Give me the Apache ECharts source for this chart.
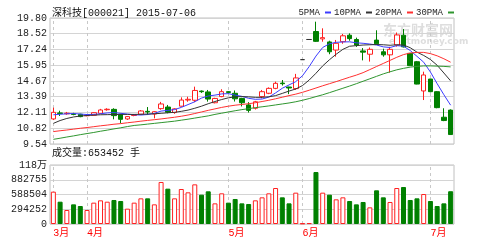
<!DOCTYPE html>
<html><head><meta charset="utf-8">
<script src="https://cdn.jsdelivr.net/npm/echarts@6/dist/echarts.min.js"></script>
<style>html,body{margin:0;padding:0;background:#fff}#c{width:502px;height:240px}</style>
</head><body><div id="c"></div>
<script>
const stockTitle = '深科技[000021] 2015-07-06';
const volumeTitle = '成交量:653452 手';
const maNames = ['5PMA', '10PMA', '20PMA', '30PMA'];
const monthNames = ['3月', '4月', '5月', '6月', '7月'];
const monthFirstDay = [0, 5, 26, 37, 56];
const priceTicks = ['9.54', '10.82', '12.11', '13.39', '14.67', '15.95', '17.24', '18.52', '19.80'];
const volumeTicks = ['0', '294252', '588504', '882755', '118万'];
const priceMin = 9.54, priceMax = 19.80, volumeMax = 1177010;

const opens  = [11.58,12.07,12.00,11.99,11.96,11.84,11.88,12.04,12.33,12.36,11.96,11.58,11.86,11.96,12.20,11.98,12.42,12.55,12.10,12.62,13.12,13.10,13.85,13.78,12.90,13.40,13.80,13.67,13.25,12.72,12.45,13.40,13.67,14.07,14.50,14.18,14.05,16.41,18.05,18.70,18.10,17.85,17.19,17.87,18.40,18.05,17.12,16.85,18.00,17.05,16.80,17.60,18.40,16.92,16.24,13.86,14.83,13.80,11.72,12.30];
const closes = [12.12,12.02,12.05,11.95,11.77,11.87,12.09,12.31,12.37,11.85,11.55,11.77,11.92,12.23,12.15,12.17,12.80,12.13,12.40,13.12,13.18,13.90,13.80,13.20,13.25,13.80,13.74,13.22,12.90,12.28,12.98,13.80,14.07,14.48,14.45,14.10,14.92,16.41,18.05,17.90,18.20,17.05,17.74,18.35,18.12,17.60,17.02,17.25,17.70,16.80,17.25,18.42,17.45,15.92,14.42,15.16,13.80,12.50,11.45,10.31];
const highs  = [12.50,12.25,12.15,12.08,12.00,11.92,12.12,12.40,12.45,12.45,12.00,11.82,11.98,12.30,12.55,12.20,12.97,12.72,12.45,13.34,13.39,14.21,13.90,13.94,13.30,14.00,13.85,13.90,13.30,12.95,13.05,13.94,14.15,14.62,14.75,14.20,15.25,16.41,18.05,19.50,18.96,17.95,18.01,18.50,18.55,18.20,17.35,17.40,18.80,17.30,17.45,18.62,18.90,16.95,16.30,15.43,14.85,13.85,12.45,12.36];
const lows   = [11.49,11.82,11.92,11.88,11.72,11.80,11.85,12.00,12.25,11.55,11.22,11.50,11.80,11.92,11.90,11.63,12.33,12.04,12.00,12.58,12.98,12.95,13.70,12.99,12.85,13.35,13.65,13.00,12.60,12.10,12.35,13.26,13.60,14.00,14.30,13.60,13.95,16.41,18.05,17.85,17.87,16.85,16.65,17.70,17.95,17.45,16.35,16.25,17.60,16.65,15.35,17.47,17.40,15.90,14.40,13.12,13.75,12.45,11.40,10.31];
const volumes = [645000,445000,279000,392000,359000,279000,426000,472000,445000,479000,459000,306000,426000,512000,512000,392000,838000,705000,512000,698000,632000,791000,585000,652000,412000,612000,426000,499000,412000,399000,472000,532000,612000,718000,532000,412000,625000,12000,18000,1037000,625000,585000,492000,532000,459000,392000,439000,332000,672000,532000,439000,718000,738000,479000,512000,598000,459000,359000,412000,653452];

const ma5  = [11.92,11.96,12.00,12.02,11.98,11.94,11.95,12.00,12.07,12.10,12.04,11.98,11.92,11.90,11.94,12.04,12.22,12.28,12.34,12.52,12.75,12.98,13.28,13.45,13.52,13.62,13.64,13.52,13.42,13.26,13.18,13.20,13.36,13.70,14.08,14.35,14.62,15.10,15.85,16.70,17.40,17.70,17.82,17.85,17.86,17.78,17.74,17.68,17.60,17.45,17.40,17.55,17.50,17.15,16.68,16.20,15.40,14.45,13.55,12.70];
const ma10 = [11.22,11.45,11.62,11.74,11.82,11.86,11.89,11.92,11.93,11.94,11.95,11.95,11.95,11.96,11.98,12.00,12.04,12.08,12.12,12.20,12.30,12.45,12.62,12.82,13.00,13.16,13.30,13.38,13.40,13.38,13.34,13.34,13.38,13.48,13.66,13.85,14.02,14.30,14.75,15.30,15.90,16.40,16.85,17.25,17.50,17.55,17.60,17.62,17.64,17.62,17.58,17.62,17.60,17.38,17.02,16.75,16.42,15.95,15.32,14.68];
const ma20 = [10.55,10.62,10.68,10.75,10.82,10.88,10.95,11.02,11.08,11.15,11.20,11.27,11.33,11.40,11.46,11.52,11.58,11.65,11.72,11.80,11.90,12.02,12.15,12.28,12.40,12.52,12.62,12.70,12.76,12.82,12.90,13.00,13.10,13.22,13.35,13.48,13.60,13.75,13.92,14.10,14.28,14.45,14.62,14.80,14.98,15.15,15.35,15.60,15.85,16.10,16.35,16.60,16.82,16.95,17.00,17.00,16.90,16.72,16.48,16.20];
const ma30 = [9.92,10.01,10.11,10.20,10.30,10.39,10.48,10.58,10.67,10.77,10.86,10.96,11.05,11.10,11.16,11.22,11.28,11.34,11.40,11.48,11.56,11.65,11.74,11.83,11.95,12.05,12.15,12.25,12.34,12.42,12.50,12.57,12.64,12.72,12.80,12.88,12.98,13.10,13.24,13.40,13.55,13.72,13.90,14.08,14.26,14.45,14.65,14.85,15.05,15.25,15.42,15.58,15.70,15.80,15.86,15.90,15.90,15.88,15.86,15.82];

const mono = "'Liberation Mono','Noto Sans CJK SC',monospace";
const upColor = '#ff2020', downColor = '#008000', flatColor = '#333333';
const maColors = ['#3c3cff', '#333333', '#ff3030', '#2f962f'];
const categories = opens.map((_, i) => 'd' + i);
const monthLabelOf = {};
monthFirstDay.forEach((d, k) => { monthLabelOf[d] = monthNames[k]; });
const candleData = opens.map((o, i) => highs[i] === lows[i]
  ? { value: [o, closes[i], lows[i], highs[i]], itemStyle: { borderColor: flatColor, borderColor0: flatColor, color: flatColor } }
  : [o, closes[i], lows[i], highs[i]]);
const volData = volumes.map((v, i) => closes[i] >= opens[i]
  ? { value: v, itemStyle: { color: '#ffffff', borderColor: upColor, borderWidth: 1 } }
  : { value: v, itemStyle: { color: downColor, borderColor: downColor, borderWidth: 1 } });
const monthLines = {
  silent: true, symbol: 'none', z: 1, animation: false,
  label: { show: false },
  lineStyle: { type: [3, 3], color: '#c8c8c8', width: 1 },
  emphasis: { disabled: true },
  data: monthFirstDay.map(d => ({ xAxis: d }))
};
const maSeries = [ma5, ma10, ma20, ma30].map((arr, k) => ({
  name: maNames[k], type: 'line', xAxisIndex: 0, yAxisIndex: 0, data: arr,
  symbol: 'none', smooth: false, z: 3,
  lineStyle: { width: 1, color: maColors[k] }, itemStyle: { color: maColors[k] }
}));

const chart = echarts.init(document.getElementById('c'));
chart.setOption({
  animation: false,
  backgroundColor: '#ffffff',
  title: [
    { text: stockTitle, left: 52, top: 8, padding: 0,
      textStyle: { fontSize: 10, fontWeight: 'normal', fontFamily: mono, color: '#111' } },
    { text: volumeTitle, left: 52, top: 148, padding: 0,
      textStyle: { fontSize: 10, fontWeight: 'normal', fontFamily: mono, color: '#111' } }
  ],
  legend: {
    data: maNames.map(n => ({ name: n, icon: 'rect' })),
    right: 48, top: 8, padding: 0, itemWidth: 6, itemHeight: 2, itemGap: 3, align: 'right',
    selectedMode: false,
    textStyle: { fontSize: 9, fontFamily: mono, color: '#222' }
  },
  graphic: [
    { type: 'text', left: 383, top: 23, z: 0, silent: true,
      style: { text: '东方财富网', font: 'bold 14px "Noto Sans CJK SC"', fill: '#dedede' } },
    { type: 'text', left: 389, top: 37, z: 0, silent: true,
      style: { text: 'eastmoney.com', font: 'bold 9px "DejaVu Sans"', fill: '#dedede' } }
  ],
  grid: [
    { left: 50, right: 48, top: 18, height: 126, show: true, borderColor: '#c0c0c0', borderWidth: 1 },
    { left: 50, right: 48, top: 165, height: 59, show: true, borderColor: '#c0c0c0', borderWidth: 1 }
  ],
  xAxis: [
    { type: 'category', gridIndex: 0, data: categories, boundaryGap: true,
      axisLine: { show: false }, axisTick: { show: false }, axisLabel: { show: false }, splitLine: { show: false } },
    { type: 'category', gridIndex: 1, data: categories, boundaryGap: true,
      axisLine: { show: false }, axisTick: { show: false }, splitLine: { show: false },
      axisLabel: { show: true, interval: (i) => (i in monthLabelOf), formatter: (v, i) => monthLabelOf[i] || '',
        color: '#ff0000', fontSize: 10, fontFamily: mono, align: 'left', margin: 4 } }
  ],
  yAxis: [
    { type: 'value', gridIndex: 0, min: priceMin, max: priceMax, interval: (priceMax - priceMin) / 8,
      axisLine: { show: false }, axisTick: { show: false },
      axisLabel: { formatter: (v, i) => priceTicks[i] ?? '', fontSize: 10, fontFamily: mono, color: '#222', margin: 3 },
      splitLine: { lineStyle: { color: '#d4d4d4', width: 1 } } },
    { type: 'value', gridIndex: 1, min: 0, max: volumeMax, interval: volumeMax / 4,
      axisLine: { show: false }, axisTick: { show: false },
      axisLabel: { formatter: (v, i) => volumeTicks[i] ?? '', fontSize: 10, fontFamily: mono, color: '#222', margin: 3 },
      splitLine: { lineStyle: { color: '#d4d4d4', width: 1 } } }
  ],
  series: [
    { name: 'K', type: 'candlestick', xAxisIndex: 0, yAxisIndex: 0, data: candleData, barWidth: 5, z: 2,
      itemStyle: { color: '#ffffff', color0: downColor, borderColor: upColor, borderColor0: downColor, borderWidth: 1 },
      markLine: monthLines },
    ...maSeries,
    { name: 'VOL', type: 'bar', xAxisIndex: 1, yAxisIndex: 1, data: volData, barWidth: 5, z: 2,
      markLine: monthLines }
  ]
});
</script>
</body></html>
